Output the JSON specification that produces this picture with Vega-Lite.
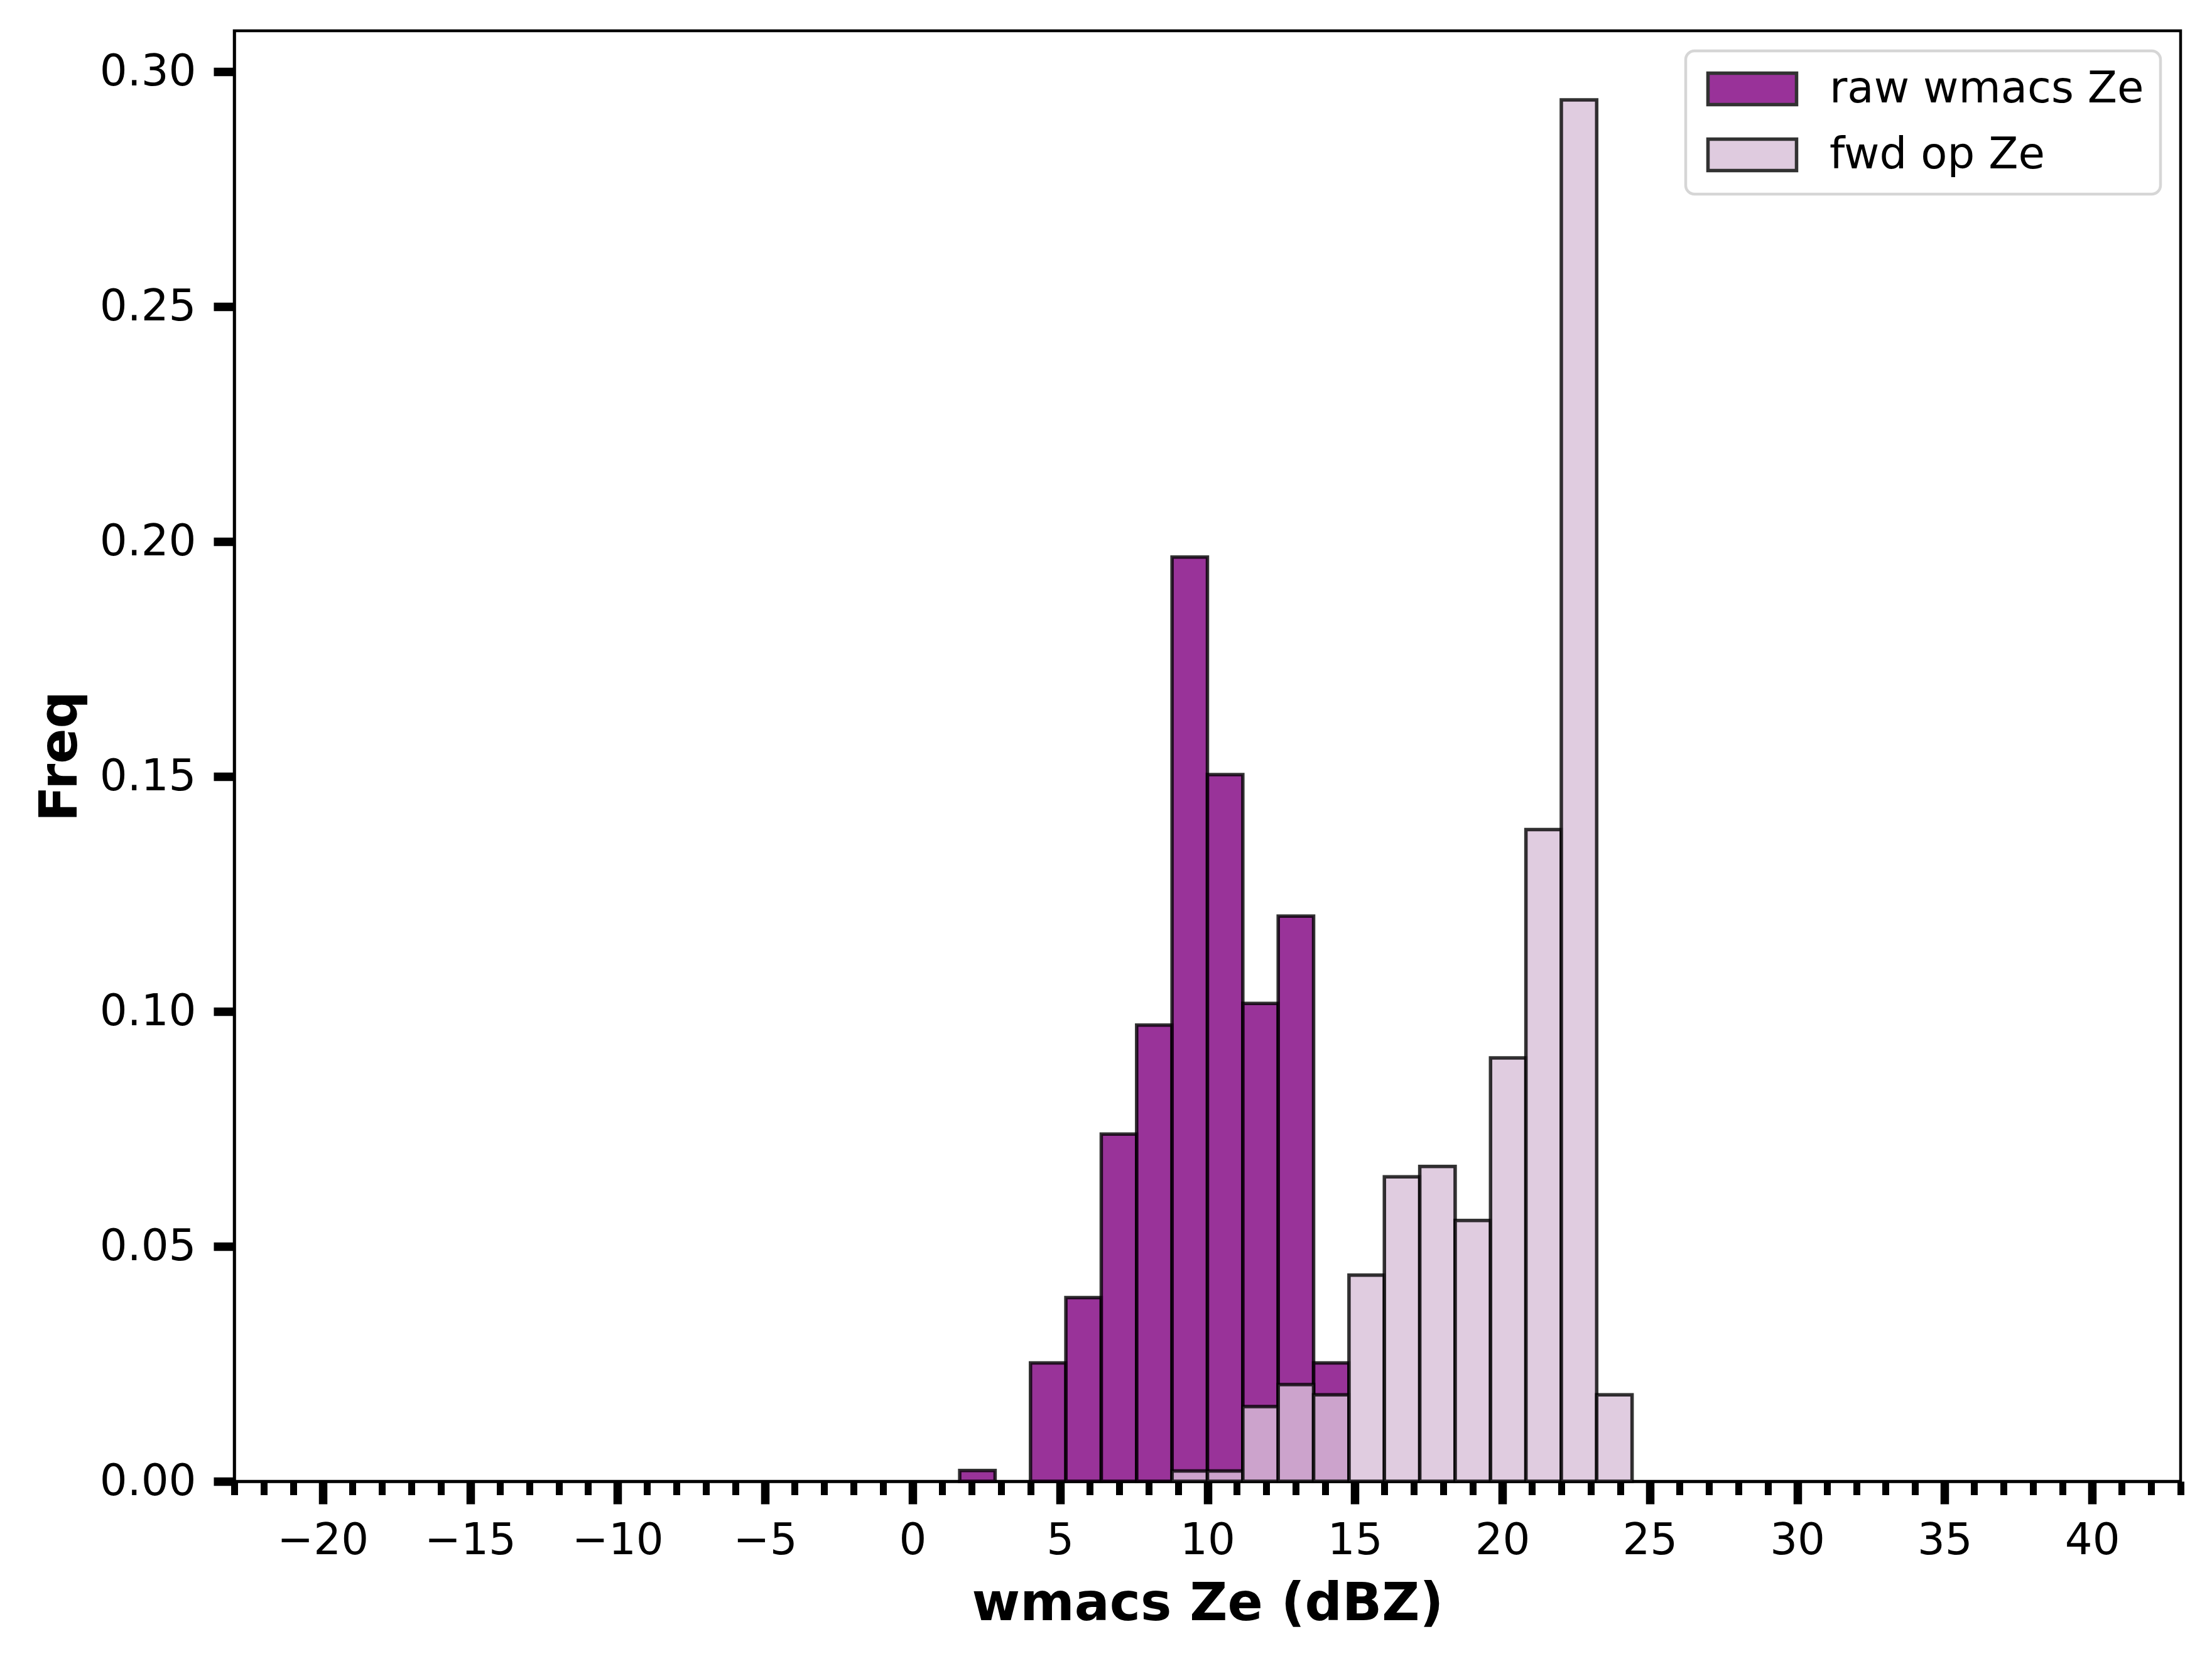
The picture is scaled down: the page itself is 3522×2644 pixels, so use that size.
{
  "$schema": "https://vega.github.io/schema/vega-lite/v6.json",
  "autosize": "none",
  "width": 3099,
  "height": 2309,
  "padding": {"left": 373, "top": 49, "right": 50, "bottom": 286},
  "background": "white",
  "config": {
    "font": "DejaVu Sans",
    "view": {"stroke": "black", "strokeWidth": 4.5},
    "axis": {"grid": false, "labelFont": "DejaVu Sans", "titleFont": "DejaVu Sans", "labelColor": "black", "titleColor": "black", "tickColor": "black", "domainColor": "black", "zindex": 1},
    "legend": {
      "fillColor": "white", "strokeColor": "#d6d6d6", "strokeWidth": 4.5, "cornerRadius": 14, "padding": 26
    }
  },
  "data": {
    "values": [
      {"lo": 1.6, "hi": 2.8, "freq": 0.0023, "series": "raw wmacs Ze"},
      {"lo": 4.0, "hi": 5.2, "freq": 0.0252, "series": "raw wmacs Ze"},
      {"lo": 5.2, "hi": 6.4, "freq": 0.0391, "series": "raw wmacs Ze"},
      {"lo": 6.4, "hi": 7.6, "freq": 0.0739, "series": "raw wmacs Ze"},
      {"lo": 7.6, "hi": 8.8, "freq": 0.0971, "series": "raw wmacs Ze"},
      {"lo": 8.8, "hi": 10.0, "freq": 0.1967, "series": "raw wmacs Ze"},
      {"lo": 10.0, "hi": 11.2, "freq": 0.1504, "series": "raw wmacs Ze"},
      {"lo": 11.2, "hi": 12.4, "freq": 0.1017, "series": "raw wmacs Ze"},
      {"lo": 12.4, "hi": 13.6, "freq": 0.1203, "series": "raw wmacs Ze"},
      {"lo": 13.6, "hi": 14.8, "freq": 0.0252, "series": "raw wmacs Ze"},
      {"lo": 8.8, "hi": 10.0, "freq": 0.0022, "series": "fwd op Ze"},
      {"lo": 10.0, "hi": 11.2, "freq": 0.0022, "series": "fwd op Ze"},
      {"lo": 11.2, "hi": 12.4, "freq": 0.0159, "series": "fwd op Ze"},
      {"lo": 12.4, "hi": 13.6, "freq": 0.0206, "series": "fwd op Ze"},
      {"lo": 13.6, "hi": 14.8, "freq": 0.0184, "series": "fwd op Ze"},
      {"lo": 14.8, "hi": 16.0, "freq": 0.0439, "series": "fwd op Ze"},
      {"lo": 16.0, "hi": 17.2, "freq": 0.0648, "series": "fwd op Ze"},
      {"lo": 17.2, "hi": 18.4, "freq": 0.0670, "series": "fwd op Ze"},
      {"lo": 18.4, "hi": 19.6, "freq": 0.0555, "series": "fwd op Ze"},
      {"lo": 19.6, "hi": 20.8, "freq": 0.0901, "series": "fwd op Ze"},
      {"lo": 20.8, "hi": 22.0, "freq": 0.1387, "series": "fwd op Ze"},
      {"lo": 22.0, "hi": 23.2, "freq": 0.2940, "series": "fwd op Ze"},
      {"lo": 23.2, "hi": 24.4, "freq": 0.0184, "series": "fwd op Ze"}
    ]
  },
  "layer": [
    {
      "mark": {"type": "bar", "stroke": "black", "strokeWidth": 5.5, "fillOpacity": 0.8, "strokeOpacity": 0.8},
      "encoding": {
        "x": {
          "field": "lo", "type": "quantitative",
          "scale": {"domain": [-23, 43], "nice": false, "zero": false},
          "axis": {
            "orient": "bottom",
            "values": [-20, -15, -10, -5, 0, 5, 10, 15, 20, 25, 30, 35, 40],
            "title": "wmacs Ze (dBZ)", "titleFontSize": 83, "titleFontWeight": "bold", "titlePadding": 25,
            "labelFontSize": 69, "labelPadding": 24, "labelFlush": false,
            "tickSize": 36, "tickWidth": 13.5, "domain": true, "domainWidth": 4.5
          }
        },
        "x2": {"field": "hi"},
        "y": {
          "field": "freq", "type": "quantitative", "stack": null,
          "scale": {"domain": [0, 0.3087], "nice": false},
          "axis": {
            "values": [0, 0.05, 0.1, 0.15, 0.2, 0.25, 0.3], "format": ".2f",
            "title": "Freq", "titleFontSize": 83, "titleFontWeight": "bold", "titlePadding": 35,
            "labelFontSize": 69, "labelPadding": 28, "labelFlush": false,
            "tickSize": 33, "tickWidth": 13.5, "domain": true, "domainWidth": 4.5
          }
        },
        "y2": {"datum": 0},
        "color": {
          "field": "series", "type": "nominal",
          "scale": {"domain": ["raw wmacs Ze", "fwd op Ze"], "range": ["#800080", "#d8bfd8"]},
          "legend": {
            "title": null, "orient": "top-right", "offset": 32,
            "labelFontSize": 69, "labelFont": "DejaVu Sans", "labelColor": "black", "labelLimit": 0,
            "symbolType": "M-1,-1H4.64V1H-1Z", "symbolSize": 2500,
            "symbolStrokeColor": "black", "symbolStrokeWidth": 5.5, "symbolOpacity": 0.8,
            "labelOffset": 134, "rowPadding": 32
          }
        }
      }
    },
    {
      "mark": {"type": "bar", "opacity": 0},
      "encoding": {
        "x": {
          "field": "lo", "type": "quantitative",
          "axis": {
            "orient": "bottom", "title": null, "labels": false, "domain": false,
            "values": [-23, -22, -21, -19, -18, -17, -16, -14, -13, -12, -11, -9, -8, -7, -6, -4, -3, -2, -1, 1, 2, 3, 4, 6, 7, 8, 9, 11, 12, 13, 14, 16, 17, 18, 19, 21, 22, 23, 24, 26, 27, 28, 29, 31, 32, 33, 34, 36, 37, 38, 39, 41, 42, 43],
            "tickSize": 21.5, "tickWidth": 11
          }
        },
        "x2": {"field": "hi"}
      }
    }
  ],
  "resolve": {"axis": {"x": "independent"}}
}
